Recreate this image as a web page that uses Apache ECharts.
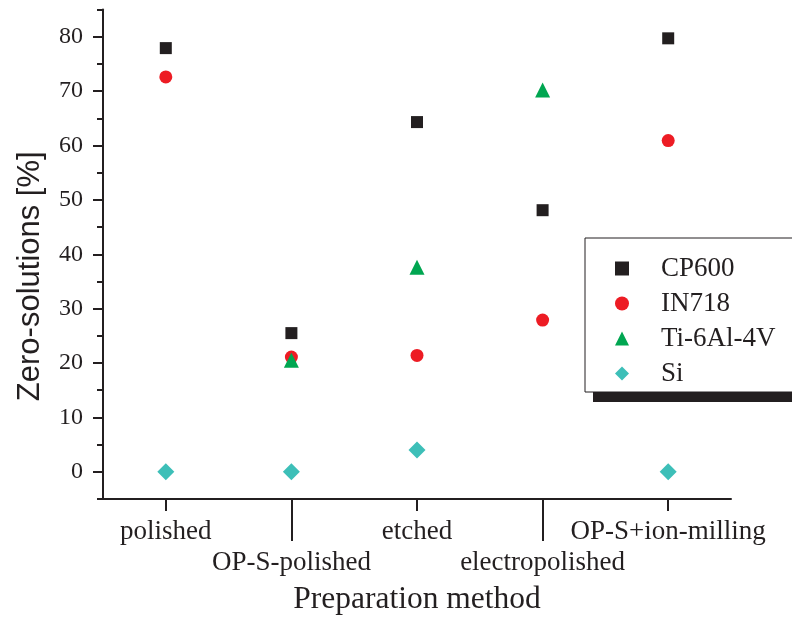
<!DOCTYPE html>
<html lang="en">
<head>
<meta charset="UTF-8">
<title>Zero-solutions</title>
<script src="https://cdn.jsdelivr.net/npm/echarts@6/dist/echarts.min.js"></script>
<style>
html,body{margin:0;padding:0;background:#fff}
#chartBox{width:792px;height:617px}
</style>
</head>
<body>
<div id="chartBox"></div>
<script>
// data
var methods = ['polished', 'OP-S-polished', 'etched', 'electropolished', 'OP-S+ion-milling'];
var cp600 = [77.9, 25.5, 64.3, 48.1, 79.7];
var in718 = [72.6, 21.1, 21.4, 27.9, 60.9];
var ti64 = [null, 20.5, 37.6, 70.2, null];
var si = [0, 0, 4.0, null, 0];
var majorTicks = [0, 10, 20, 30, 40, 50, 60, 70, 80];

var ink = '#231f20';
var serif = 'Liberation Serif';

function scatter(name, data, symbol, size, color) {
    return {
        type: 'scatter', name: name, data: data,
        symbol: symbol, symbolSize: size,
        itemStyle: {color: color, opacity: 1}
    };
}

var chartObj = echarts.init(document.getElementById('chartBox'));
chartObj.setOption({
    animation: false,
    grid: {left: 103, right: 61, top: 9.5, bottom: 118, outerBoundsMode: 'none'},
    // black block behind the legend box (its drop shadow)
    graphic: [{
        type: 'rect', left: 593, top: 248, z: 0,
        shape: {width: 210, height: 154},
        style: {fill: ink}
    }],
    xAxis: [
        {
            type: 'category', data: methods, position: 'bottom',
            axisLine: {onZero: false, lineStyle: {color: ink, width: 2}},
            axisTick: {show: true, alignWithLabel: true, length: 12, lineStyle: {color: ink, width: 2},
                interval: function (i) { return i % 2 === 0; }},
            axisLabel: {interval: function (i) { return i % 2 === 0; }, margin: 19,
                fontFamily: serif, fontSize: 27, color: ink},
            name: 'Preparation method', nameLocation: 'middle', nameGap: 85,
            nameTextStyle: {fontFamily: serif, fontSize: 31.5, color: ink},
            splitLine: {show: false}
        },
        {
            type: 'category', data: methods, position: 'bottom', offset: 0,
            axisLine: {show: false, onZero: false},
            axisTick: {show: true, alignWithLabel: true, length: 42, lineStyle: {color: ink, width: 2},
                interval: function (i) { return i % 2 === 1; }},
            axisLabel: {interval: function (i) { return i % 2 === 1; }, margin: 50,
                fontFamily: serif, fontSize: 27, color: ink},
            splitLine: {show: false}
        }
    ],
    yAxis: [
        {
            type: 'value', min: -5, max: 85, position: 'left',
            axisLine: {show: true, lineStyle: {color: ink, width: 2}},
            axisTick: {show: true, length: 10, customValues: majorTicks, lineStyle: {color: ink, width: 2}},
            axisLabel: {customValues: majorTicks, margin: 20, fontFamily: serif, fontSize: 24, color: ink},
            splitLine: {show: false},
            name: 'Zero-solutions [%]', nameLocation: 'middle', nameGap: 57,
            nameTextStyle: {fontFamily: 'Liberation Sans', fontSize: 31, color: ink, padding: [0, 44, 0, 0]}
        },
        {
            type: 'value', min: -5, max: 85, interval: 10, position: 'left',
            axisLine: {show: false},
            axisTick: {show: true, length: 6, lineStyle: {color: ink, width: 2}},
            axisLabel: {show: false},
            splitLine: {show: false}
        }
    ],
    legend: {
        orient: 'vertical', left: 585, top: 238, z: 5,
        padding: [17, 60, 5, 30], itemGap: 8,
        itemWidth: 14, itemHeight: 14,
        backgroundColor: '#fff', borderColor: ink, borderWidth: 1,
        textStyle: {fontFamily: serif, fontSize: 27, color: ink, padding: [0, 0, 0, 27]},
        data: ['CP600', 'IN718', 'Ti-6Al-4V', 'Si']
    },
    series: [
        scatter('CP600', cp600, 'rect', 12, ink),
        scatter('IN718', in718, 'circle', 13, '#ed1c24'),
        scatter('Ti-6Al-4V', ti64, 'triangle', 15, '#00a651'),
        scatter('Si', si, 'diamond', 17, '#3dbfb8')
    ]
});
</script>
</body>
</html>
